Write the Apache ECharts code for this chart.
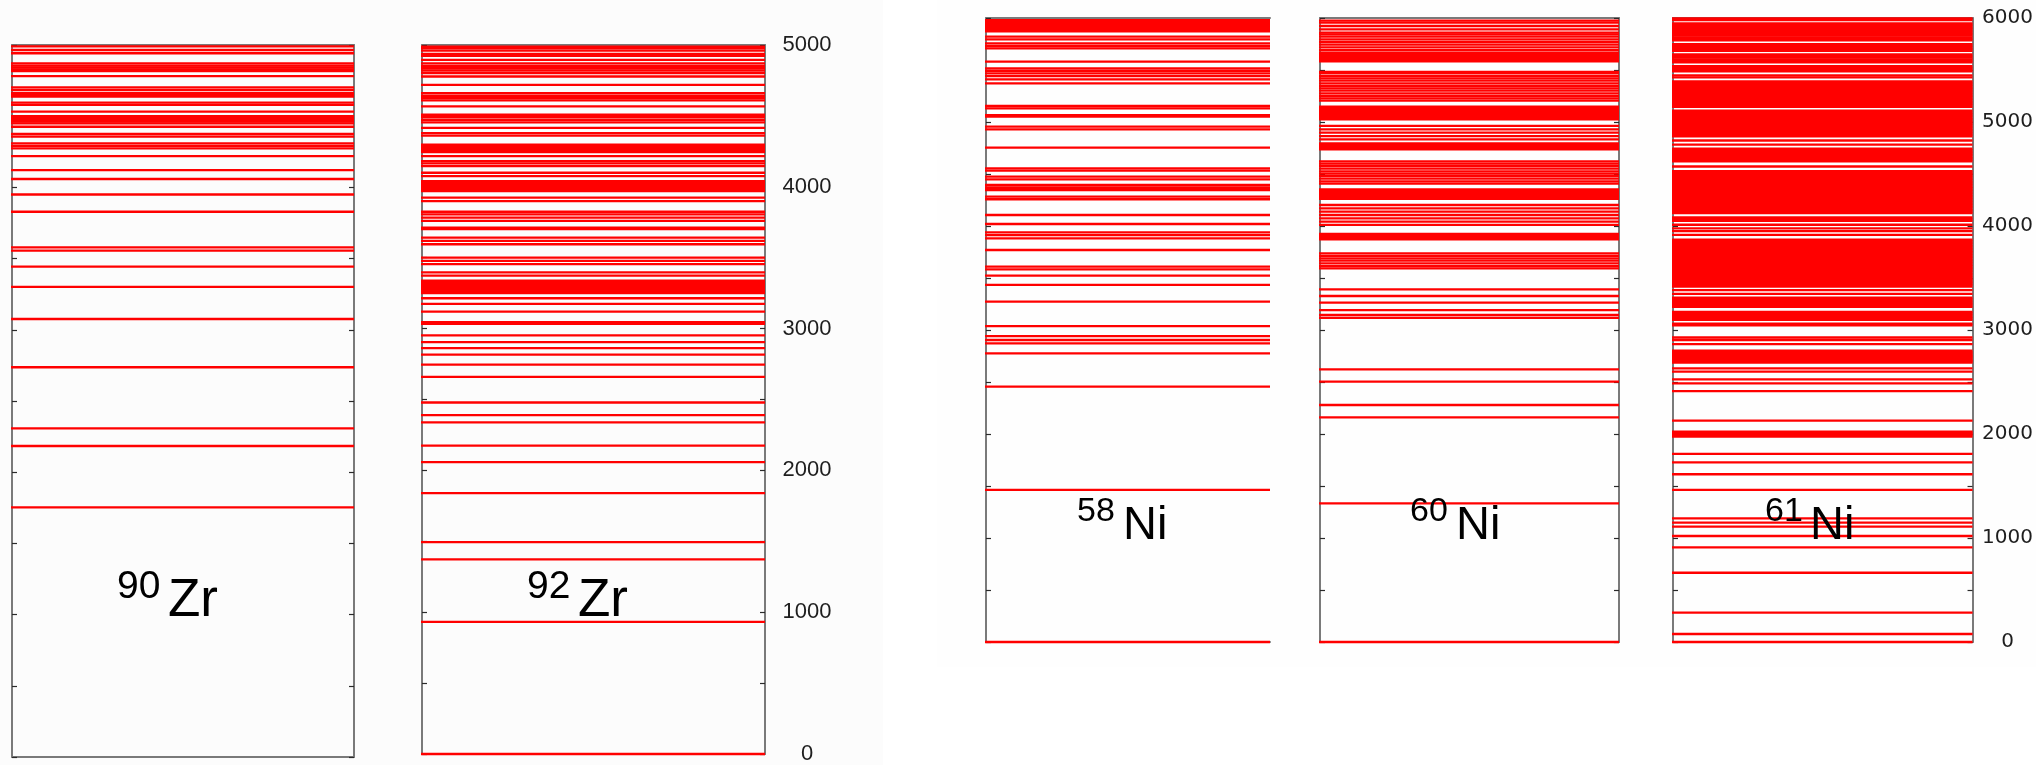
<!DOCTYPE html>
<html>
<head>
<meta charset="utf-8">
<script src="https://cdn.jsdelivr.net/npm/echarts@6/dist/echarts.min.js"></script>
<style>
  html, body { margin: 0; padding: 0; background: #ffffff; }
  #chart { width: 2036px; height: 765px; }
</style>
</head>
<body>
<div id="chart"></div>
<script>
// ---- Data: excited-level energies (keV) ----
const nuclei = ["90Zr", "92Zr", "58Ni", "60Ni", "61Ni"];
const massNumbers = ["90", "92", "58", "60", "61"];
const elements = ["Zr", "Zr", "Ni", "Ni", "Ni"];

const zr90Levels = [1753, 2184, 2308, 2737, 3076, 3301, 3443, 3556, 3579, 3829, 3950, 4059,
  4122, 4220, 4274, 4291, 4309, 4356, 4375, 4426, 4450, 4462, 4475, 4488, 4501, 4532, 4579,
  4595, 4637, 4650, 4661, 4684, 4703, 4782, 4816, 4829, 4842, 4855, 4871, 4942, 4965, 4990];

const zr92Levels = [0, 932, 1372, 1494, 1840, 2058, 2175, 2338, 2390, 2479, 2659, 2746, 2816,
  2862, 2904, 2952, 3034, 3045, 3120, 3174, 3214, 3251, 3259, 3268, 3276, 3284, 3293, 3303,
  3312, 3322, 3330, 3338, 3373, 3396, 3455, 3478, 3501, 3595, 3618, 3642, 3701, 3712, 3759,
  3783, 3806, 3824, 3899, 3923, 3970, 3982, 3993, 4005, 4017, 4028, 4040, 4075, 4099, 4146,
  4165, 4181, 4216, 4244, 4254, 4263, 4272, 4281, 4290, 4298, 4361, 4379, 4415, 4454, 4473,
  4491, 4508, 4567, 4609, 4626, 4642, 4661, 4719, 4778, 4801, 4820, 4836, 4853, 4871, 4895,
  4923, 4937, 4960, 4977, 4988];

const ni58Levels = [0, 1462, 2455, 2776, 2872, 2904, 2942, 3038, 3272, 3433, 3522, 3583, 3609,
  3769, 3881, 3913, 3939, 4019, 4106, 4257, 4282, 4346, 4359, 4372, 4394, 4449, 4474, 4532,
  4555, 4753, 4929, 4955, 5051, 5067, 5131, 5154, 5372, 5410, 5442, 5468, 5493, 5516, 5580,
  5708, 5731, 5756, 5795, 5821, 5872, 5884, 5896, 5908, 5920, 5932, 5944, 5956, 5968, 5980];

const ni60Levels = [0, 1333, 2160, 2279, 2503, 2622, 3116, 3144, 3192, 3263, 3327, 3391, 3593,
  3615, 3641, 3667, 3689, 3712, 3737, 3872, 3885, 3897, 3910, 3923, 4010, 4042, 4074, 4106,
  4138, 4170, 4202, 4260, 4271, 4282, 4295, 4308, 4319, 4330, 4342, 4353, 4407, 4429, 4455,
  4481, 4503, 4526, 4551, 4577, 4599, 4622, 4738, 4747, 4758, 4769, 4782, 4795, 4833, 4865,
  4897, 4929, 4962, 5026, 5038, 5051, 5064, 5077, 5088, 5099, 5111, 5122, 5135, 5147, 5205,
  5228, 5250, 5276, 5301, 5324, 5346, 5372, 5397, 5420, 5442, 5468, 5482, 5582, 5596, 5610,
  5624, 5638, 5652, 5667, 5692, 5718, 5744, 5769, 5795, 5821, 5843, 5859, 5891, 5923, 5955,
  5974];

const ni61Levels = [0, 77, 282, 666, 910, 1019, 1109, 1147, 1189, 1462, 1613, 1728, 1808, 1974,
  1987, 2000, 2012, 2022, 2128, 2413, 2487, 2526, 2599, 2631, 2686, 2697, 2705, 2716, 2728,
  2739, 2750, 2762, 2776, 2788, 2801, 2865, 2904, 2928,
  3045, 3060, 3097, 3112, 3127, 3144, 3160, 3175, 3222, 3234, 3249, 3263, 3279, 3296, 3312,
  3348, 3384,
  3418, 3433, 3447, 3463, 3478, 3492, 3508, 3523, 3537, 3553, 3568, 3582, 3598, 3613, 3627,
  3643, 3658, 3672, 3688, 3703, 3717, 3733, 3748, 3762, 3778, 3793, 3807, 3822, 3838, 3852, 3868,
  3915, 3950, 3978, 4012, 4050, 4065, 4082,
  4123, 4138, 4152, 4168, 4183, 4197, 4213, 4228, 4242, 4258, 4273, 4287, 4303, 4318, 4332,
  4348, 4363, 4377, 4393, 4408, 4422, 4438, 4453, 4467, 4483, 4498, 4512, 4528,
  4572,
  4622, 4637, 4652, 4668, 4683, 4697, 4713, 4728, 4743,
  4782, 4822,
  4862, 4877, 4892, 4907, 4922, 4937, 4953, 4968, 4983, 4998, 5013, 5028, 5043, 5058, 5073,
  5088, 5108,
  5146, 5161, 5177, 5192, 5207, 5222, 5237, 5252, 5267, 5283, 5298, 5313, 5328, 5343, 5358,
  5374, 5390,
  5430, 5448,
  5486, 5502, 5518, 5536,
  5573, 5588, 5603, 5619, 5634, 5650,
  5685, 5700, 5716, 5732, 5748,
  5784, 5799, 5814, 5830, 5845, 5860, 5875, 5890, 5905, 5920, 5935, 5948,
  5980, 5995];

const levelSets = [zr90Levels, zr92Levels, ni58Levels, ni60Levels, ni61Levels];
const axisMax = [5000, 5000, 6000, 6000, 6000];
const tickStep = 500;
const labelStep = 1000;

// ---- Layout (pixels) ----
const panels = [
  { left: 12,   top: 45, width: 342, height: 712, labels: false, rightLine: true },
  { left: 422,  top: 45, width: 343, height: 712, labels: true,  rightLine: true },
  { left: 986,  top: 18, width: 284, height: 624, labels: false, rightLine: false },
  { left: 1320, top: 18, width: 299, height: 624, labels: false, rightLine: true },
  { left: 1673, top: 18, width: 300, height: 624, labels: true,  rightLine: true }
];
const labelPos = [
  { supX: 117,  mainX: 168,  supY: 587, mainY: 601, supSize: 39, mainSize: 53 },
  { supX: 527,  mainX: 578,  supY: 587, mainY: 601, supSize: 39, mainSize: 53 },
  { supX: 1077, mainX: 1123, supY: 512, mainY: 526, supSize: 34, mainSize: 47 },
  { supX: 1410, mainX: 1456, supY: 512, mainY: 526, supSize: 34, mainSize: 47 },
  { supX: 1765, mainX: 1810, supY: 512, mainY: 526, supSize: 34, mainSize: 47 }
];

const borderColor = '#7a7a7a';
const tickColor = '#2a2a2a';

const grids = [], xAxes = [], yAxes = [], series = [], graphics = [];

graphics.push({ type: 'rect', z: -10, shape: { x: 0, y: 0, width: 883, height: 765 }, style: { fill: '#fcfcfc' } });
graphics.push({ type: 'rect', z: -10, shape: { x: 937, y: 0, width: 1099, height: 667 }, style: { fill: '#fefefe' } });

panels.forEach((p, i) => {
  grids.push({ left: p.left, top: p.top, width: p.width, height: p.height, containLabel: false });
  const lineStyle = { color: borderColor, width: 2 };
  // bottom and top borders
  xAxes.push({ type: 'value', gridIndex: i, min: 0, max: 1, position: 'bottom',
    axisLine: { show: true, onZero: false, lineStyle }, axisTick: { show: false }, axisLabel: { show: false }, splitLine: { show: false } });
  xAxes.push({ type: 'value', gridIndex: i, min: 0, max: 1, position: 'top',
    axisLine: { show: true, onZero: false, lineStyle }, axisTick: { show: false }, axisLabel: { show: false }, splitLine: { show: false } });
  const isNi = i >= 2;
  // left axis
  yAxes.push({ type: 'value', gridIndex: i, min: 0, max: axisMax[i], interval: tickStep, position: 'left',
    axisLine: { show: true, onZero: false, lineStyle },
    axisTick: { show: true, inside: true, length: 5, lineStyle: { color: tickColor, width: 1.2 } },
    axisLabel: { show: false }, splitLine: { show: false } });
  // right axis
  yAxes.push({ type: 'value', gridIndex: i, min: 0, max: axisMax[i], interval: tickStep, position: 'right',
    axisLine: { show: p.rightLine, onZero: false, lineStyle },
    axisTick: { show: p.rightLine, inside: true, length: 5, lineStyle: { color: tickColor, width: 1.2 } },
    axisLabel: {
      show: p.labels, align: 'center', margin: isNi ? 35 : 42,
      fontFamily: isNi ? 'DejaVu Sans' : 'Liberation Sans', fontSize: isNi ? 20 : 22, color: '#1e1e1e',
      formatter: v => (v % labelStep === 0 ? String(v) : '')
    },
    splitLine: { show: false } });

  series.push({
    type: 'custom',
    name: nuclei[i],
    xAxisIndex: i * 2,
    yAxisIndex: i * 2,
    data: levelSets[i].map(e => [0, e]),
    clip: false,
    z: 3,
    renderItem: function (params, api) {
      const y = api.coord([0, api.value(1)])[1];
      const cs = params.coordSys;
      return {
        type: 'line',
        shape: { x1: cs.x - 1, y1: y, x2: cs.x + cs.width, y2: y },
        style: { stroke: '#ff0000', lineWidth: 2.3 }
      };
    }
  });

  const lp = labelPos[i];
  graphics.push({ type: 'text', z: 100, x: lp.supX, y: lp.supY,
    style: { text: massNumbers[i], fontFamily: 'Liberation Sans', fontSize: lp.supSize, fill: '#000', align: 'left', verticalAlign: 'middle' } });
  graphics.push({ type: 'text', z: 100, x: lp.mainX, y: lp.mainY,
    style: { text: elements[i], fontFamily: 'Liberation Sans', fontSize: lp.mainSize, fill: '#000', align: 'left', verticalAlign: 'middle' } });
});

const chart = echarts.init(document.getElementById('chart'), null, { renderer: 'canvas' });
chart.setOption({
  animation: false,
  backgroundColor: '#ffffff',
  grid: grids,
  xAxis: xAxes,
  yAxis: yAxes,
  series: series,
  graphic: { elements: graphics }
});
</script>
</body>
</html>
